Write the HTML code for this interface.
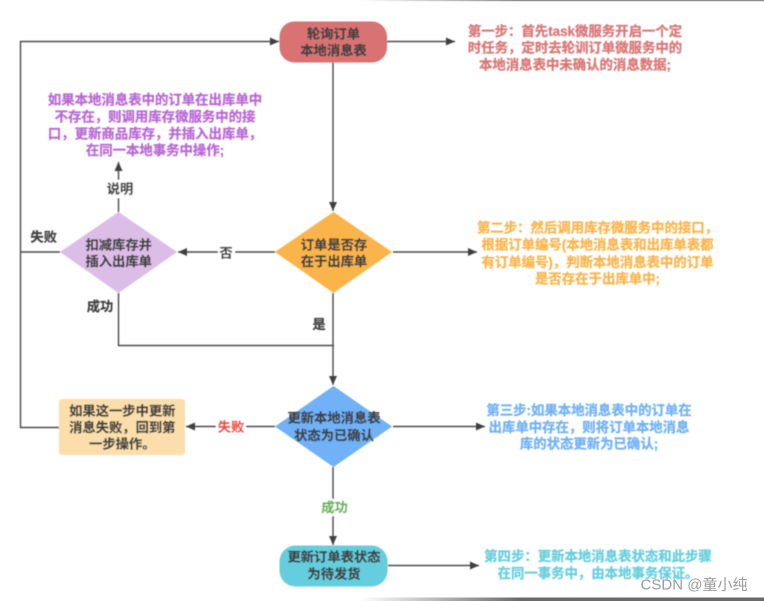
<!DOCTYPE html>
<html lang="zh">
<head>
<meta charset="utf-8">
<title>本地消息表流程图</title>
<style>
html,body{margin:0;padding:0;background:#fff;width:764px;height:601px;overflow:hidden}
svg{display:block}
text{font-family:"Liberation Sans","Noto Sans CJK SC",sans-serif;text-anchor:middle;dominant-baseline:central}
.g{filter:url(#b)}
.n{font-size:13.3px;font-weight:700;fill:#3f3f3f;stroke:#3f3f3f;stroke-width:.2}
.d{font-size:13.4px;font-weight:700;stroke-width:.25}
.l{stroke:#4a4a4a;stroke-width:1.4;fill:none}
</style>
</head>
<body>
<svg width="764" height="601" viewBox="0 0 764 601" xmlns="http://www.w3.org/2000/svg">
<defs>
<filter id="b" x="-2%" y="-2%" width="104%" height="104%"><feGaussianBlur stdDeviation="0.4"/></filter>
<linearGradient id="f1" x1="0" x2="1" y1="0" y2="0"><stop offset="0" stop-color="#fff"/><stop offset="0.4" stop-color="#8a8a8a"/><stop offset="1" stop-color="#8a8a8a"/></linearGradient>
<linearGradient id="f2" x1="0" x2="1" y1="0" y2="0"><stop offset="0" stop-color="#fff"/><stop offset="0.4" stop-color="#6a6a6a"/><stop offset="1" stop-color="#6a6a6a"/></linearGradient>
<marker id="a" markerUnits="userSpaceOnUse" markerWidth="10" markerHeight="10" refX="9" refY="5" orient="auto"><path d="M0 1 L9 5 L0 9 Z" fill="#404040"/></marker>
</defs>
<rect x="360" y="0" width="404" height="1.2" fill="url(#f1)"/>
<rect x="360" y="597.5" width="404" height="3.5" fill="url(#f2)"/>
<g class="g">
<path class="l" d="M20.5 252H60M20.5 427.5H59M20.5 428V41.5H279" marker-end="url(#a)"/>
<path class="l" d="M387 41.5H455" marker-end="url(#a)"/>
<path class="l" d="M333 62V211" marker-end="url(#a)"/>
<path class="l" d="M393 252H477" marker-end="url(#a)"/>
<path class="l" d="M275 252H178" marker-end="url(#a)"/>
<path class="l" d="M118.500 212V162" marker-end="url(#a)"/>
<path class="l" d="M118.500 293V345.500H334"/>
<path class="l" d="M333 293V385" marker-end="url(#a)"/>
<path class="l" d="M275 426.500H186" marker-end="url(#a)"/>
<path class="l" d="M393 426.500H485" marker-end="url(#a)"/>
<path class="l" d="M333 467V545" marker-end="url(#a)"/>
<path class="l" d="M388 565.500H479" marker-end="url(#a)"/>

<rect x="279.500" y="21.500" width="107.500" height="41" rx="15" fill="#d97373"/>
<polygon points="275,252 333.500,212 392,252 333.500,293" fill="#fab44a"/>
<polygon points="60,252 118.500,212 177,252 118.500,293" fill="#dcbde8"/>
<polygon points="275,426.500 333.500,386 392,426.500 333.500,467" fill="#6fb1f7"/>
<rect x="59" y="399" width="126" height="56" rx="3" fill="#fbdeab"/>
<rect x="279.500" y="545.500" width="108" height="41" rx="16" fill="#65cede"/>

<rect x="218" y="244" width="17" height="17" fill="#fff"/>
<rect x="105" y="180" width="30" height="18" fill="#fff"/>
<rect x="216" y="418" width="30" height="18" fill="#fff"/>
<rect x="320" y="499" width="29" height="17" fill="#fff"/>

<text class="n" x="333.500" y="34">轮询订单</text>
<text class="n" x="333.500" y="50.700">本地消息表</text>
<text class="n" x="334" y="245">订单是否存</text>
<text class="n" x="334" y="261.700">在于出库单</text>
<text class="n" x="118.700" y="245">扣减库存并</text>
<text class="n" x="118.700" y="261.500">插入出库单</text>
<text class="n" x="334" y="418">更新本地消息表</text>
<text class="n" x="334" y="435.700">状态为已确认</text>
<text class="n" x="122.300" y="411">如果这一步中更新</text>
<text class="n" x="122.300" y="427.500">消息失败，回到第</text>
<text class="n" x="122.300" y="444">一步操作。</text>
<text class="n" x="334" y="557">更新订单表状态</text>
<text class="n" x="334" y="574">为待发货</text>

<text class="n" x="43.700" y="237">失败</text>
<text class="n" x="100" y="306.700">成功</text>
<text class="n" x="319" y="324.500">是</text>
<text class="n" x="226" y="253">否</text>
<text class="n" x="120" y="189">说明</text>
<text class="n" x="231" y="427" style="fill:#ef4b3f;stroke:#ef4b3f">失败</text>
<text class="n" x="334.500" y="507.500" style="fill:#62b54f;stroke:#62b54f">成功</text>

<g class="d" fill="#da7474" stroke="#da7474">
<text x="575" y="31.500">第一步：首先task微服务开启一个定</text>
<text x="575" y="48">时任务，定时去轮训订单微服务中的</text>
<text x="575" y="65">本地消息表中未确认的消息数据;</text>
</g>
<g class="d" fill="#b868d4" stroke="#b868d4">
<text x="155" y="100">如果本地消息表中的订单在出库单中</text>
<text x="155" y="117">不存在，则调用库存微服务中的接</text>
<text x="155" y="134">口，更新商品库存，并插入出库单，</text>
<text x="155" y="150.500">在同一本地事务中操作;</text>
</g>
<g class="d" fill="#fab44a" stroke="#fab44a">
<text x="597.500" y="228">第二步：然后调用库存微服务中的接口，</text>
<text x="597.500" y="245">根据订单编号(本地消息表和出库单表都</text>
<text x="597.500" y="262.500">有订单编号)，判断本地消息表中的订单</text>
<text x="597.500" y="279">是否存在于出库单中;</text>
</g>
<g class="d" fill="#6fb1f7" stroke="#6fb1f7">
<text x="589" y="410.700">第三步:如果本地消息表中的订单在</text>
<text x="589" y="427.300">出库单中存在，则将订单本地消息</text>
<text x="589" y="444">库的状态更新为已确认;</text>
</g>
<g class="d" fill="#65cede" stroke="#65cede">
<text x="598" y="556.700">第四步：更新本地消息表状态和此步骤</text>
<text x="598" y="573.500">在同一事务中，由本地事务保证。</text>
</g>
</g>
<text x="694" y="585" style="font-size:15px;fill:#9a9a9a">CSDN @童小纯</text>
</svg>
</body>
</html>
